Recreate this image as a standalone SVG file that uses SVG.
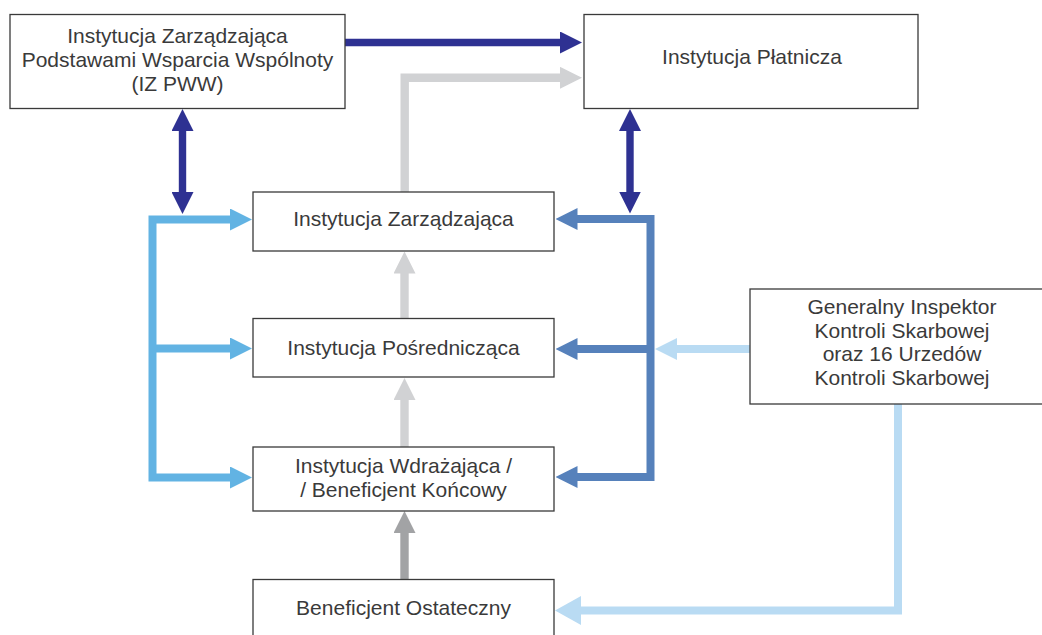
<svg xmlns="http://www.w3.org/2000/svg" width="1042" height="635" viewBox="0 0 1042 635">
<style>
.box{fill:#fff;stroke:#3a3a3a;stroke-width:1.3}
.t{font-family:"Liberation Sans",Arial,sans-serif;font-size:21px;fill:#3a3a3a;text-anchor:middle}
.c{fill:none;stroke-linejoin:miter;stroke-linecap:butt}
.navy{stroke:#2e3192;stroke-width:7.4}
.gray{stroke:#d1d2d4;stroke-width:8.4}
.dgray{stroke:#a2a3a5;stroke-width:8.4}
.lblue{stroke:#62b3e3;stroke-width:8}
.sblue{stroke:#5681bb;stroke-width:8}
.pblue{stroke:#b9dbf3;stroke-width:8}
</style>
<defs>
<marker id="mNavy" markerUnits="userSpaceOnUse" markerWidth="22" markerHeight="22" refX="2" refY="11" orient="auto-start-reverse"><path d="M0,0 L22,11 L0,22 Z" fill="#2e3192"/></marker>
<marker id="mGray" markerUnits="userSpaceOnUse" markerWidth="22" markerHeight="22" refX="2" refY="11" orient="auto-start-reverse"><path d="M0,0 L22,11 L0,22 Z" fill="#d1d2d4"/></marker>
<marker id="mDgray" markerUnits="userSpaceOnUse" markerWidth="22" markerHeight="22" refX="2" refY="11" orient="auto-start-reverse"><path d="M0,0 L22,11 L0,22 Z" fill="#a2a3a5"/></marker>
<marker id="mLblue" markerUnits="userSpaceOnUse" markerWidth="22" markerHeight="22" refX="2" refY="11" orient="auto-start-reverse"><path d="M0,0 L22,11 L0,22 Z" fill="#62b3e3"/></marker>
<marker id="mSblue" markerUnits="userSpaceOnUse" markerWidth="22" markerHeight="22" refX="2" refY="11" orient="auto-start-reverse"><path d="M0,0 L22,11 L0,22 Z" fill="#5681bb"/></marker>
<marker id="mPblue" markerUnits="userSpaceOnUse" markerWidth="22" markerHeight="22" refX="2" refY="11" orient="auto-start-reverse"><path d="M0,0 L22,11 L0,22 Z" fill="#b9dbf3"/></marker>
<marker id="mPblueL" markerUnits="userSpaceOnUse" markerWidth="26" markerHeight="29" refX="2" refY="14.5" orient="auto-start-reverse"><path d="M0,0 L26,14.5 L0,29 Z" fill="#b9dbf3"/></marker>
</defs>
<g id="connectors">
<path class="c navy" d="M345,42.5 H562" marker-end="url(#mNavy)"/>
<path class="c navy" d="M182.5,129 V194" marker-start="url(#mNavy)" marker-end="url(#mNavy)"/>
<path class="c navy" d="M630,129 V193.5" marker-start="url(#mNavy)" marker-end="url(#mNavy)"/>
<path class="c gray" d="M404.7,192 V77.8 H562" marker-end="url(#mGray)"/>
<path class="c gray" d="M404.5,318 V271.5" marker-end="url(#mGray)"/>
<path class="c gray" d="M404.5,447 V398" marker-end="url(#mGray)"/>
<path class="c dgray" d="M404.5,579 V531" marker-end="url(#mDgray)"/>
<path class="c lblue" d="M232,219.5 H152.5 V477.5 H232" marker-start="url(#mLblue)" marker-end="url(#mLblue)"/>
<path class="c lblue" d="M152.5,348.5 H232" marker-end="url(#mLblue)"/>
<path class="c sblue" d="M575.5,219 H650.5 V477 H575.5" marker-start="url(#mSblue)" marker-end="url(#mSblue)"/>
<path class="c sblue" d="M650.5,349 H575.5" marker-end="url(#mSblue)"/>
<path class="c pblue" d="M750,349 H675" marker-end="url(#mPblue)"/>
<path class="c pblue" d="M898,404 V610.5 H579" marker-end="url(#mPblueL)"/>
</g>
<g id="iz-pww">
<rect class="box" x="10" y="14.5" width="335" height="94"/>
<text class="t" x="177.5" y="43">Instytucja Zarządzająca</text>
<text class="t" x="177.5" y="67">Podstawami Wsparcia Wspólnoty</text>
<text class="t" x="177.5" y="91">(IZ PWW)</text>
</g>
<g id="platnicza">
<rect class="box" x="584" y="14.5" width="334" height="94"/>
<text class="t" x="752" y="64">Instytucja Płatnicza</text>
</g>
<g id="zarzadzajaca">
<rect class="box" x="253" y="192" width="301" height="59"/>
<text class="t" x="403.5" y="226">Instytucja Zarządzająca</text>
</g>
<g id="posredniczaca">
<rect class="box" x="253" y="318.5" width="301" height="58.5"/>
<text class="t" x="403.5" y="355">Instytucja Pośrednicząca</text>
</g>
<g id="wdrazajaca">
<rect class="box" x="253" y="447" width="301" height="64"/>
<text class="t" x="403.5" y="473">Instytucja Wdrażająca /</text>
<text class="t" x="403.5" y="497">/ Beneficjent Końcowy</text>
</g>
<g id="ostateczny">
<rect class="box" x="253" y="579.5" width="301" height="60"/>
<text class="t" x="403.5" y="615">Beneficjent Ostateczny</text>
</g>
<g id="giks">
<rect class="box" x="750" y="289" width="310" height="115"/>
<text class="t" x="902" y="314">Generalny Inspektor</text>
<text class="t" x="902" y="338">Kontroli Skarbowej</text>
<text class="t" x="902" y="361">oraz 16 Urzedów</text>
<text class="t" x="902" y="385">Kontroli Skarbowej</text>
</g>
</svg>
